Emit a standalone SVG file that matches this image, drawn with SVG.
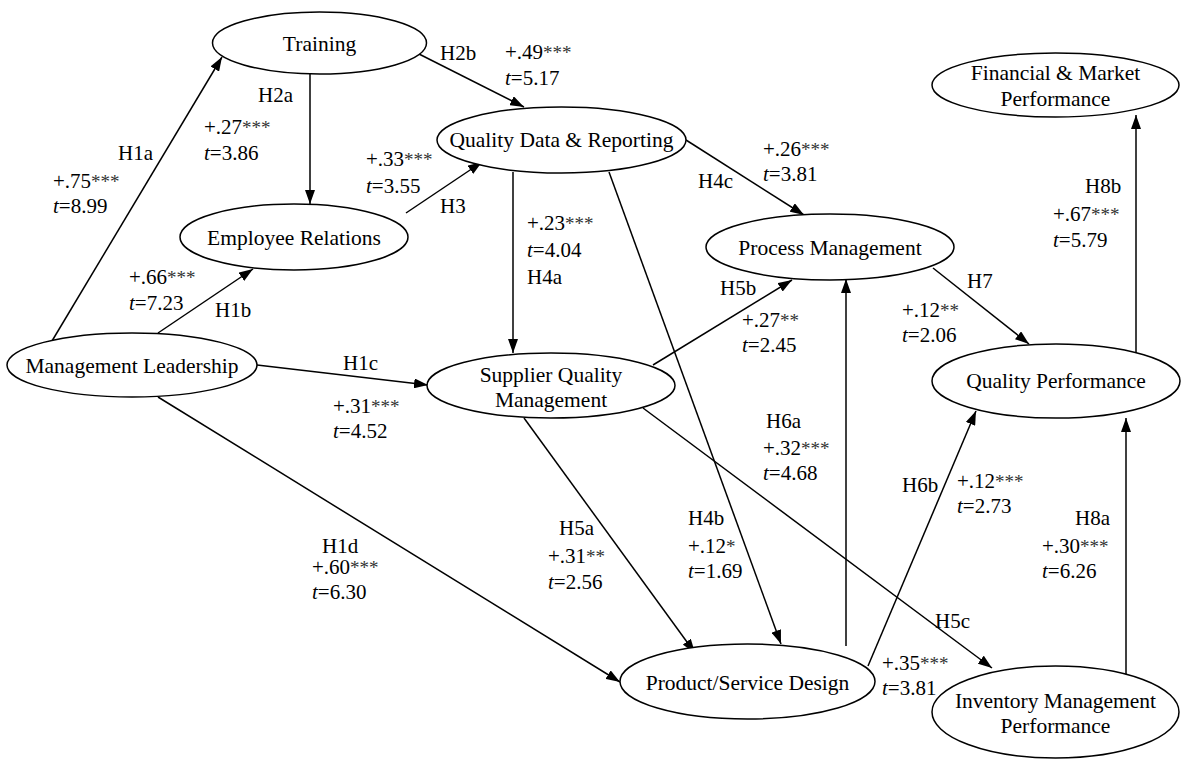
<svg xmlns="http://www.w3.org/2000/svg" width="1182" height="759" viewBox="0 0 1182 759">
<style>
.n{fill:#fff;stroke:#000;stroke-width:1.5}
.t{font-family:"Liberation Serif","Times New Roman",serif;font-size:21.5px;fill:#000;text-anchor:middle}
.l{font-family:"Liberation Serif","Times New Roman",serif;font-size:21px;fill:#000}
.e{stroke:#000;stroke-width:1.5;fill:none;marker-end:url(#ah)}
.i{font-style:italic}
.s{font-size:19px;fill:#333}
</style>
<defs>
<marker id="ah" viewBox="0 0 14 10" refX="14" refY="5" markerWidth="14" markerHeight="10" markerUnits="userSpaceOnUse" orient="auto">
<path d="M0,0 L14,5 L0,10 Z" fill="#000"/>
</marker>
</defs>
<rect width="1182" height="759" fill="#fff"/>
<g id="connectors">
<line class="e" x1="52" y1="341" x2="222" y2="57"/>
<line class="e" x1="310" y1="74" x2="310" y2="204"/>
<line class="e" x1="419" y1="54" x2="524" y2="107"/>
<line class="e" x1="406" y1="213" x2="482" y2="162"/>
<line class="e" x1="158" y1="333" x2="253" y2="269"/>
<line class="e" x1="257" y1="365" x2="428" y2="385"/>
<line class="e" x1="158" y1="397" x2="620" y2="682"/>
<line class="e" x1="513" y1="172" x2="513" y2="353"/>
<line class="e" x1="609" y1="172" x2="781" y2="644"/>
<line class="e" x1="686" y1="140" x2="804" y2="215"/>
<line class="e" x1="524" y1="418" x2="695" y2="653"/>
<line class="e" x1="653" y1="365" x2="792" y2="280"/>
<line class="e" x1="643" y1="408" x2="992" y2="668"/>
<line class="e" x1="846" y1="646" x2="846" y2="279"/>
<line class="e" x1="868" y1="666" x2="976" y2="411"/>
<line class="e" x1="933" y1="268" x2="1029" y2="344"/>
<line class="e" x1="1126" y1="675" x2="1126" y2="418"/>
<line class="e" x1="1136" y1="354" x2="1136" y2="115"/>
</g>
<g id="training"><ellipse class="n" cx="319.5" cy="43" rx="107" ry="31"/><text class="t" x="319.5" y="51">Training</text></g>
<g id="employee-relations"><ellipse class="n" cx="294" cy="237" rx="114" ry="33"/><text class="t" x="294" y="245">Employee Relations</text></g>
<g id="quality-data"><ellipse class="n" cx="561.5" cy="140" rx="124.5" ry="33"/><text class="t" x="561.5" y="147">Quality Data &amp; Reporting</text></g>
<g id="process-management"><ellipse class="n" cx="830" cy="247" rx="124" ry="33"/><text class="t" x="830" y="255">Process Management</text></g>
<g id="management-leadership"><ellipse class="n" cx="132" cy="365" rx="125" ry="32"/><text class="t" x="132" y="373">Management Leadership</text></g>
<g id="supplier-quality"><ellipse class="n" cx="551" cy="385.5" rx="124" ry="32.5"/><text class="t" x="551" y="382">Supplier Quality</text><text class="t" x="551" y="407">Management</text></g>
<g id="financial-market"><ellipse class="n" cx="1055.5" cy="85" rx="123.5" ry="32"/><text class="t" x="1055.5" y="80">Financial &amp; Market</text><text class="t" x="1055.5" y="106">Performance</text></g>
<g id="quality-performance"><ellipse class="n" cx="1056" cy="381" rx="124" ry="37"/><text class="t" x="1056" y="388">Quality Performance</text></g>
<g id="product-service-design"><ellipse class="n" cx="747.5" cy="681.5" rx="127.5" ry="37.5"/><text class="t" x="747.5" y="690">Product/Service Design</text></g>
<g id="inventory-management"><ellipse class="n" cx="1055.5" cy="712" rx="123.5" ry="46"/><text class="t" x="1055.5" y="708">Inventory Management</text><text class="t" x="1055.5" y="733">Performance</text></g>
<g id="labels">
<text class="l" x="118" y="160">H1a</text>
<text class="l" x="53" y="188">+.75<tspan class="s">***</tspan></text>
<text class="l" x="53" y="213"><tspan class="i">t</tspan>=8.99</text>
<text class="l" x="258" y="102">H2a</text>
<text class="l" x="204" y="134">+.27<tspan class="s">***</tspan></text>
<text class="l" x="204" y="160"><tspan class="i">t</tspan>=3.86</text>
<text class="l" x="440" y="60">H2b</text>
<text class="l" x="505" y="59">+.49<tspan class="s">***</tspan></text>
<text class="l" x="505" y="85"><tspan class="i">t</tspan>=5.17</text>
<text class="l" x="366" y="166">+.33<tspan class="s">***</tspan></text>
<text class="l" x="366" y="193"><tspan class="i">t</tspan>=3.55</text>
<text class="l" x="440" y="213">H3</text>
<text class="l" x="527" y="230">+.23<tspan class="s">***</tspan></text>
<text class="l" x="527" y="257"><tspan class="i">t</tspan>=4.04</text>
<text class="l" x="527" y="284">H4a</text>
<text class="l" x="698" y="188">H4c</text>
<text class="l" x="763" y="156">+.26<tspan class="s">***</tspan></text>
<text class="l" x="763" y="181"><tspan class="i">t</tspan>=3.81</text>
<text class="l" x="1085" y="193">H8b</text>
<text class="l" x="1053" y="221">+.67<tspan class="s">***</tspan></text>
<text class="l" x="1053" y="247"><tspan class="i">t</tspan>=5.79</text>
<text class="l" x="129" y="284">+.66<tspan class="s">***</tspan></text>
<text class="l" x="129" y="310"><tspan class="i">t</tspan>=7.23</text>
<text class="l" x="215" y="317">H1b</text>
<text class="l" x="343" y="370">H1c</text>
<text class="l" x="333" y="413">+.31<tspan class="s">***</tspan></text>
<text class="l" x="333" y="438"><tspan class="i">t</tspan>=4.52</text>
<text class="l" x="720" y="295">H5b</text>
<text class="l" x="742" y="327">+.27<tspan class="s">**</tspan></text>
<text class="l" x="742" y="352"><tspan class="i">t</tspan>=2.45</text>
<text class="l" x="766" y="428">H6a</text>
<text class="l" x="763" y="455">+.32<tspan class="s">***</tspan></text>
<text class="l" x="763" y="480"><tspan class="i">t</tspan>=4.68</text>
<text class="l" x="967" y="288">H7</text>
<text class="l" x="902" y="317">+.12<tspan class="s">**</tspan></text>
<text class="l" x="902" y="342"><tspan class="i">t</tspan>=2.06</text>
<text class="l" x="902" y="492">H6b</text>
<text class="l" x="957" y="488">+.12<tspan class="s">***</tspan></text>
<text class="l" x="957" y="513"><tspan class="i">t</tspan>=2.73</text>
<text class="l" x="1075" y="525">H8a</text>
<text class="l" x="1042" y="553">+.30<tspan class="s">***</tspan></text>
<text class="l" x="1042" y="578"><tspan class="i">t</tspan>=6.26</text>
<text class="l" x="935" y="628">H5c</text>
<text class="l" x="882" y="670">+.35<tspan class="s">***</tspan></text>
<text class="l" x="882" y="695"><tspan class="i">t</tspan>=3.81</text>
<text class="l" x="322" y="553">H1d</text>
<text class="l" x="312" y="574">+.60<tspan class="s">***</tspan></text>
<text class="l" x="312" y="599"><tspan class="i">t</tspan>=6.30</text>
<text class="l" x="559" y="535">H5a</text>
<text class="l" x="548" y="563">+.31<tspan class="s">**</tspan></text>
<text class="l" x="548" y="589"><tspan class="i">t</tspan>=2.56</text>
<text class="l" x="688" y="525">H4b</text>
<text class="l" x="688" y="553">+.12<tspan class="s">*</tspan></text>
<text class="l" x="688" y="578"><tspan class="i">t</tspan>=1.69</text>
</g>
</svg>
